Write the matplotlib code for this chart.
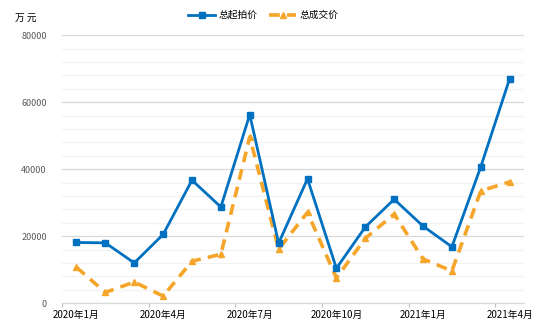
import numpy as np
import matplotlib
matplotlib.use('Agg')
import matplotlib.pyplot as plt
from matplotlib.ticker import FixedLocator

plt.rcParams['font.family'] = ['Noto Sans CJK SC', 'DejaVu Sans']

months = ['2020年1月', '2020年2月', '2020年3月', '2020年4月', '2020年5月', '2020年6月',
          '2020年7月', '2020年8月', '2020年9月', '2020年10月', '2020年11月', '2020年12月',
          '2021年1月', '2021年2月', '2021年3月', '2021年4月']
start_price = [18100, 18000, 12000, 20500, 36700, 28700, 56300, 17900,
               37100, 10400, 22700, 31000, 23000, 16800, 40700, 67000]
deal_price = [10700, 3200, 6300, 2100, 12500, 14600, 49600, 16100,
              27100, 7500, 19300, 26600, 13200, 9600, 33500, 36200]

blue = '#0070C0'
orange = '#F5A62A'

fig = plt.figure(figsize=(5.54, 3.32), dpi=100)
ax = fig.add_axes([0.112, 0.087, 0.834, 0.807])

x = np.arange(len(months))
ax.plot(x, start_price, color=blue, lw=2, marker='s', ms=5, label='总起拍价', zorder=3)
ax.plot(x, deal_price, color=orange, lw=2.6, ls=(0, (3, 2)), marker='^', ms=4.5,
        label='总成交价', zorder=2)

ax.set_xlim(-0.5, len(months) - 0.5)
ax.set_ylim(0, 80000)

# gridlines: light every 4000, darker every 20000
ax.yaxis.set_major_locator(FixedLocator(np.arange(0, 80001, 20000)))
ax.yaxis.set_minor_locator(FixedLocator(np.arange(0, 80001, 4000)))
ax.grid(axis='y', which='minor', color='#f2f2f2', lw=0.9)
ax.grid(axis='y', which='major', color='#d9d9d9', lw=0.9)
ax.set_axisbelow(True)

# quarter boundaries carry the tick marks, labels sit at month centres
ax.xaxis.set_major_locator(FixedLocator(np.arange(-0.5, len(months), 3)))
ax.xaxis.set_minor_locator(FixedLocator(x[::3]))
ax.set_xticklabels([])
ax.set_xticklabels([months[i] for i in x[::3]], minor=True)
ax.tick_params(axis='x', which='major', length=3, color='#bfbfbf', width=0.8)
ax.tick_params(axis='x', which='minor', length=0, pad=5, labelsize=7, labelcolor='black')
ax.tick_params(axis='y', which='both', length=0, pad=11, labelsize=6.5, labelcolor='#595959')

for s in ['top', 'right', 'left']:
    ax.spines[s].set_visible(False)
ax.spines['bottom'].set_color('#d9d9d9')
ax.spines['bottom'].set_linewidth(0.9)

fig.text(0.027, 0.945, '万 元', fontsize=7, va='center', ha='left')
fig.legend(loc='center', bbox_to_anchor=(0.475, 0.955), ncol=2, frameon=False,
           fontsize=7, handlelength=2.8, columnspacing=1.2, handletextpad=0.3)

fig.savefig('out.png', dpi=100)
